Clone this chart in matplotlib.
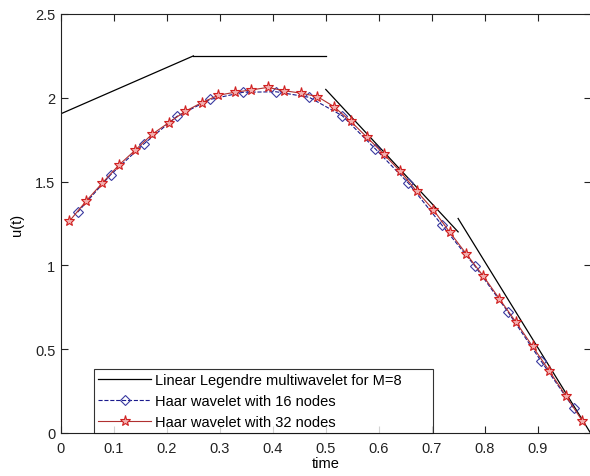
import numpy as np
import matplotlib
matplotlib.use("Agg")
import matplotlib.pyplot as plt

plt.rcParams['font.family'] = ['Liberation Sans', 'DejaVu Sans']

# Linear Legendre multiwavelet solution (M=8), piecewise linear on four subintervals
leg_segments = [
    ([0.0, 0.25], [1.905, 2.25]),
    ([0.25, 0.5], [2.25, 2.25]),
    ([0.5, 0.75], [2.05, 1.20]),
    ([0.75, 1.0], [1.28, 0.0]),
]

# Haar wavelet solution with 16 nodes (collocation points)
t16 = [(2 * i - 1) / 32 for i in range(1, 17)]
u16 = [1.317, 1.541, 1.724, 1.889, 1.990, 2.033, 2.036, 2.003,
       1.893, 1.695, 1.490, 1.243, 0.998, 0.724, 0.431, 0.147]

# Haar wavelet solution with 32 nodes
t32 = [(2 * i - 1) / 64 for i in range(1, 33)]
u32 = [1.263, 1.382, 1.492, 1.599, 1.689, 1.782, 1.851, 1.919,
       1.971, 2.015, 2.033, 2.047, 2.062, 2.042, 2.028, 2.007,
       1.947, 1.860, 1.764, 1.665, 1.561, 1.442, 1.332, 1.197,
       1.068, 0.939, 0.800, 0.661, 0.517, 0.372, 0.223, 0.073]

legend_labels = ["Linear Legendre multiwavelet for M=8",
                 "Haar wavelet with 16 nodes",
                 "Haar wavelet with 32 nodes"]

fig = plt.figure(figsize=(5.90, 4.77), dpi=100)
ax = fig.add_axes([61 / 590, 43 / 477, 529.5 / 590, 419 / 477])

for k, (ts, us) in enumerate(leg_segments):
    ax.plot(ts, us, color='black', lw=0.9,
            label=legend_labels[0] if k == 0 else None)

ax.plot(t16, u16, linestyle='--', color='#1a1a8c', lw=0.8,
        marker='D', markersize=5, markerfacecolor='none',
        markeredgecolor='#3a3aa0', markeredgewidth=0.8,
        label=legend_labels[1])
ax.plot(t32, u32, linestyle='-', color='#b03030', lw=0.8,
        marker='*', markersize=8, markerfacecolor='#f2b0b0',
        markeredgecolor='#d02020', markeredgewidth=0.8,
        label=legend_labels[2])

ax.set_xlim(0, 1)
ax.set_ylim(0, 2.5)
ax.set_xticks(np.arange(0, 1.0, 0.1))
ax.set_xticklabels(['0', '0.1', '0.2', '0.3', '0.4', '0.5', '0.6', '0.7', '0.8', '0.9'])
ax.set_yticks([0, 0.5, 1, 1.5, 2, 2.5])
ax.set_yticklabels(['0', '0.5', '1', '1.5', '2', '2.5'])
ax.tick_params(direction='in', top=True, right=True, length=5, width=0.8,
               labelsize=10.5, colors='#222222', pad=4)
ax.tick_params(axis='x', pad=6)
for s in ax.spines.values():
    s.set_linewidth(0.8)
    s.set_color('#222222')

ax.set_xlabel('time', fontsize=10.5, labelpad=0.5)
ax.set_ylabel('u(t)', fontsize=10.5, labelpad=8)

leg = ax.legend(loc='lower left', bbox_to_anchor=(0.0623, 0.0, 0.641, 0.162),
                mode='expand', borderaxespad=0, fontsize=10.5,
                handlelength=3.6, handletextpad=0.25, labelspacing=0.45,
                borderpad=0.3, frameon=True, fancybox=False)
leg.get_frame().set_edgecolor('black')
leg.get_frame().set_linewidth(0.8)

fig.savefig('out.png', dpi=100)
